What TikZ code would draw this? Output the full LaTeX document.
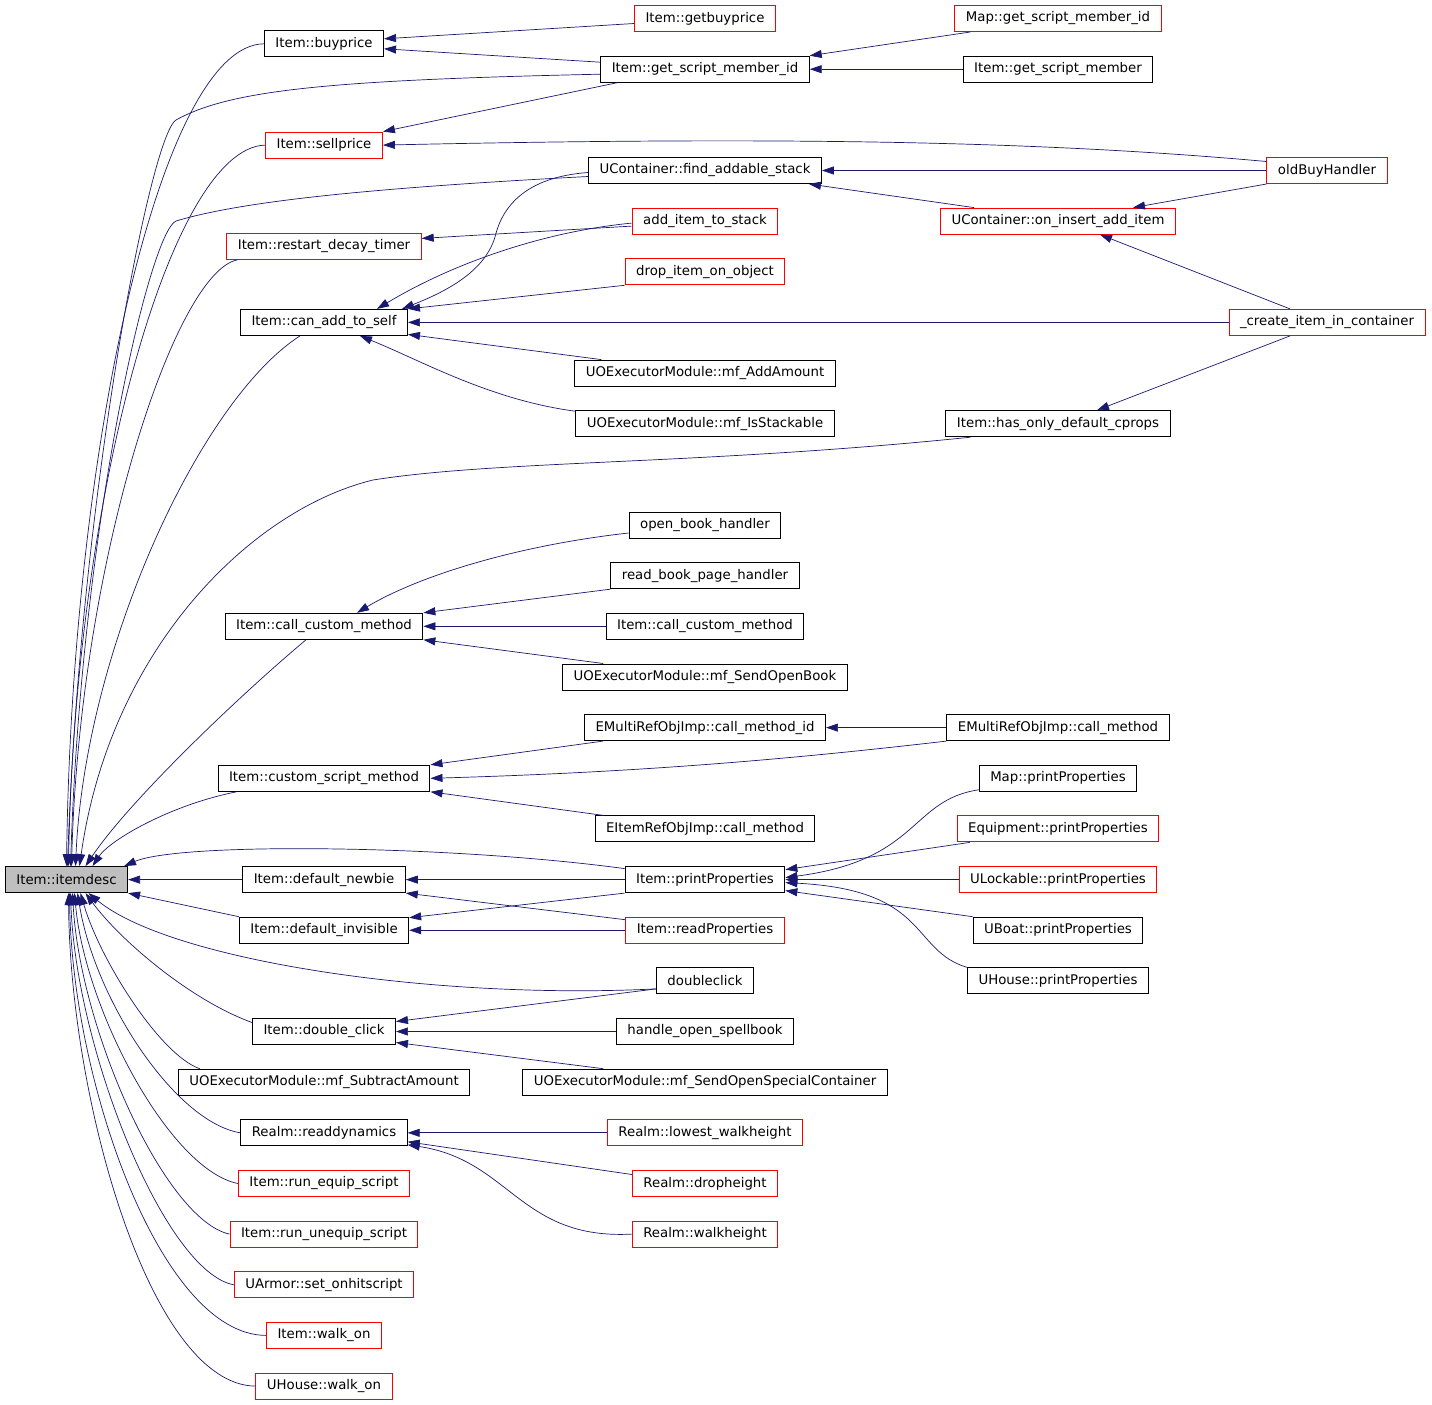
\documentclass[tikz,border=0pt]{standalone}
\usepackage{fontspec}
\setmainfont{DejaVu Sans}
\usetikzlibrary{arrows.meta,calc,positioning}
\definecolor{edgeblue}{HTML}{191970}
\tikzset{
  fn/.style={draw=black,line width=1pt,fill=white,minimum height=26pt,
    inner xsep=11pt,inner ysep=0pt,font=\fontsize{13.3}{16}\selectfont},
  fnred/.style={fn,draw=red},
  fnmain/.style={fn,fill=black!25},
  call/.style={draw=edgeblue,line width=0.7pt,-{Triangle[length=12pt,width=8pt]}},
}

\begin{document}
\begin{tikzpicture}[x=1pt,y=-1pt]
\useasboundingbox (0,0) rectangle (1432,1405);
% =============================================
% - functions.
\node[fnmain] (itemdesc) at (66.5,879.6) {Item::itemdesc};
%
\node[fn]    (buyprice)     at (324,43.8)   {Item::buyprice};
\node[fnred] (sellprice)    at (324,145.1)  {Item::sellprice};
\node[fnred] (restartdecay) at (324,246.4)  {Item::restart\_decay\_timer};
\node[fn]    (canadd)       at (324,322.4)  {Item::can\_add\_to\_self};
\node[fn]    (callcustom)   at (324,626.3)  {Item::call\_custom\_method};
\node[fn]    (customscript) at (324,778.3)  {Item::custom\_script\_method};
\node[fn]    (defnewbie)    at (324,879.6)  {Item::default\_newbie};
\node[fn]    (definvisible) at (324,930.2)  {Item::default\_invisible};
\node[fn]    (dblclick)     at (324,1031.5) {Item::double\_click};
\node[fn]    (subamount)    at (324,1082.2) {UOExecutorModule::mf\_SubtractAmount};
\node[fn]    (readdyn)      at (324,1132.8) {Realm::readdynamics};
\node[fnred] (runequip)     at (324,1183.5) {Item::run\_equip\_script};
\node[fnred] (rununequip)   at (324,1234.1) {Item::run\_unequip\_script};
\node[fnred] (onhit)        at (324,1284.8) {UArmor::set\_onhitscript};
\node[fnred] (walkon)       at (324,1335.4) {Item::walk\_on};
\node[fnred] (housewalkon)  at (324,1386.1) {UHouse::walk\_on};
%
\node[fnred] (getbuyprice)    at (705,18.5)   {Item::getbuyprice};
\node[fn]    (getsmid)        at (705,69.2)   {Item::get\_script\_member\_id};
\node[fn]    (findstack)      at (705,170.5)  {UContainer::find\_addable\_stack};
\node[fnred] (additem)        at (705,221.1)  {add\_item\_to\_stack};
\node[fnred] (dropitem)       at (705,271.8)  {drop\_item\_on\_object};
\node[fn]    (addamount)      at (705,373.1)  {UOExecutorModule::mf\_AddAmount};
\node[fn]    (isstackable)    at (705,423.7)  {UOExecutorModule::mf\_IsStackable};
\node[fn]    (openbook)       at (705,525.0)  {open\_book\_handler};
\node[fn]    (readbook)       at (705,575.7)  {read\_book\_page\_handler};
\node[fn]    (itemcallcustom) at (705,626.3)  {Item::call\_custom\_method};
\node[fn]    (sendopenbook)   at (705,677.0)  {UOExecutorModule::mf\_SendOpenBook};
\node[fn]    (callmethodid)   at (705,727.6)  {EMultiRefObjImp::call\_method\_id};
\node[fn]    (eitemcall)      at (705,828.9)  {EItemRefObjImp::call\_method};
\node[fn]    (printprops)     at (705,879.6)  {Item::printProperties};
\node[fnred] (readprops)      at (705,930.2)  {Item::readProperties};
\node[fn]    (doubleclick)    at (705,980.9)  {doubleclick};
\node[fn]    (spellbook)      at (705,1031.5) {handle\_open\_spellbook};
\node[fn]    (sendspecial)    at (705,1082.2) {UOExecutorModule::mf\_SendOpenSpecialContainer};
\node[fnred] (lowestwh)       at (705,1132.8) {Realm::lowest\_walkheight};
\node[fnred] (dropheight)     at (705,1183.5) {Realm::dropheight};
\node[fnred] (walkheight)     at (705,1234.1) {Realm::walkheight};
%
\node[fnred] (mapgetsmid)  at (1058,18.5)  {Map::get\_script\_member\_id};
\node[fn]    (getsm)       at (1058,69.2)  {Item::get\_script\_member};
\node[fnred] (oninsert)    at (1058,221.1) {UContainer::on\_insert\_add\_item};
\node[fn]    (hasonly)     at (1058,423.7) {Item::has\_only\_default\_cprops};
\node[fn]    (emulticall)  at (1058,727.6) {EMultiRefObjImp::call\_method};
\node[fn]    (mapprint)    at (1058,778.3) {Map::printProperties};
\node[fnred] (equipprint)  at (1058,828.9) {Equipment::printProperties};
\node[fnred] (lockprint)   at (1058,879.6) {ULockable::printProperties};
\node[fn]    (boatprint)   at (1058,930.2) {UBoat::printProperties};
\node[fn]    (houseprint)  at (1058,980.9) {UHouse::printProperties};
%
\node[fnred] (oldbuy)     at (1327,170.5) {oldBuyHandler};
\node[fnred] (createitem) at (1327,322.4) {\_create\_item\_in\_container};
% =============================================
% - calls, arrow at the callee.
\draw[call] ($(getbuyprice.west)+(0,5)$) -- ($(buyprice.east)+(0,-5)$);
\draw[call] ($(getsmid.west)+(0,-7)$) -- ($(buyprice.east)+(0,5)$);
\draw[call] ($(getsmid.south west)+(17,0)$) -- (sellprice.north east);
\draw[call] ($(mapgetsmid.south west)+(16,0)$) -- (getsmid.north east);
\draw[call] (getsm.west) -- (getsmid.east);
\draw[call] ($(oldbuy.west)+(0,-9)$) .. controls (1050,142) and (800,136) .. (sellprice.east);
\draw[call] (oldbuy.west) -- (findstack.east);
\draw[call] ($(oninsert.north west)+(34,0)$) -- ($(findstack.south east)+(-13,0)$);
\draw[call] (oldbuy.south west) -- ($(oninsert.north)+(75,0)$);
\draw[call] ($(createitem.north)+(-37,0)$) -- ($(oninsert.south)+(42,0)$);
\draw[call] ($(createitem.south)+(-37,0)$) -- ($(hasonly.north)+(39,0)$);
\draw[call] (createitem.west) -- (canadd.east);
\draw[call] ($(findstack.west)+(0,2)$) .. controls (540,176) and (505,195) .. (495,237)
  .. controls (485,270) and (450,290) .. ($(canadd.north)+(78,0)$);
\draw[call] ($(additem.west)+(0,2)$) .. controls (540,232) and (450,265) .. ($(canadd.north)+(53,0)$);
\draw[call] ($(additem.west)+(0,5)$) -- ($(restartdecay.east)+(0,-8)$);
\draw[call] (dropitem.south west) -- (canadd.north east);
\draw[call] ($(addamount.north west)+(27,0)$) -- ($(canadd.east)+(0,12)$);
\draw[call] ($(isstackable.north west)+(0,1)$) .. controls (490,400) and (420,360) .. ($(canadd.south)+(36,0)$);
% call_custom_method and custom_script_method
\draw[call] ($(openbook.west)+(0,8)$) .. controls (520,545) and (420,575) .. ($(callcustom.north)+(33,0)$);
\draw[call] (readbook.south west) -- (callcustom.north east);
\draw[call] (itemcallcustom.west) -- (callcustom.east);
\draw[call] ($(sendopenbook.north west)+(41,0)$) -- (callcustom.south east);
\draw[call] ($(callmethodid.south west)+(19,0)$) -- (customscript.north east);
\draw[call] (emulticall.south west) .. controls (800,758) and (650,772) .. (customscript.east);
\draw[call] (emulticall.west) -- (callmethodid.east);
\draw[call] ($(eitemcall.north west)+(9,0)$) -- (customscript.south east);
% printProperties
\draw[call] ($(mapprint.south west)+(0,-2)$) .. controls (910,800) and (920,860) .. ($(printprops.east)+(0,-2)$);
\draw[call] ($(equipprint.south west)+(13,0)$) -- ($(printprops.east)+(0,-10)$);
\draw[call] (lockprint.west) -- (printprops.east);
\draw[call] (boatprint.north west) -- ($(printprops.east)+(0,11)$);
\draw[call] (houseprint.north west) .. controls (910,950) and (930,890) .. ($(printprops.east)+(0,3)$);
\draw[call] (printprops.west) -- (defnewbie.east);
\draw[call] ($(readprops.north west)+(0,3)$) -- (defnewbie.south east);
\draw[call] (printprops.south west) -- ($(definvisible.north east)+(0,1)$);
\draw[call] (readprops.west) -- (definvisible.east);
% double_click, readdynamics
\draw[call] ($(doubleclick.west)+(0,8)$) -- ($(dblclick.east)+(0,-10)$);
\draw[call] (spellbook.west) -- (dblclick.east);
\draw[call] ($(sendspecial.north west)+(81,0)$) -- ($(dblclick.east)+(0,11)$);
\draw[call] (lowestwh.west) -- (readdyn.east);
\draw[call] ($(dropheight.west)+(0,-9)$) -- ($(readdyn.east)+(0,9)$);
\draw[call] (walkheight.west) .. controls (520,1240) and (510,1160) .. ($(readdyn.east)+(0,12)$);
% =============================================
% - into Item::itemdesc, from above.
\draw[call] (buyprice.west) .. controls (160,45) and (72,450) .. (itemdesc.north);
\draw[call] ($(getsmid.west)+(0,5)$) .. controls (330,80) and (230,90) .. (176,120)
  .. controls (150,136) and (80,500) .. ($(itemdesc.north)+(1,0)$);
\draw[call] (sellprice.west) .. controls (170,148) and (75,500) .. ($(itemdesc.north)+(2,0)$);
\draw[call] ($(findstack.west)+(0,6)$) .. controls (330,190) and (230,205) .. (176,221)
  .. controls (150,232) and (82,520) .. ($(itemdesc.north)+(4,0)$);
\draw[call] ($(restartdecay.south west)+(11,0)$) .. controls (175,272) and (80,560) .. ($(itemdesc.north)+(5,0)$);
\draw[call] ($(canadd.south)+(-24,0)$) .. controls (200,400) and (85,650) .. ($(itemdesc.north)+(9,0)$);
\draw[call] ($(hasonly.south west)+(25,0)$) .. controls (700,465) and (500,460) .. (373,480)
  .. controls (250,510) and (110,650) .. ($(itemdesc.north)+(13,0)$);
\draw[call] ($(callcustom.south)+(-18,0)$) .. controls (240,695) and (130,800) .. ($(itemdesc.north)+(19,0)$);
\draw[call] ($(customscript.south west)+(19,0)$) .. controls (170,805) and (110,840) .. ($(itemdesc.north)+(26,0)$);
\draw[call] ($(printprops.west)+(0,-11)$) .. controls (450,845) and (180,842) .. ($(itemdesc.north east)+(-4,0)$);
% - side and below.
\draw[call] (defnewbie.west) -- (itemdesc.east);
\draw[call] (definvisible.north west) -- (itemdesc.south east);
\draw[call] ($(doubleclick.west)+(0,8)$) .. controls (430,1000) and (170,960) .. ($(itemdesc.south)+(22,0)$);
\draw[call] ($(dblclick.west)+(0,-9)$) .. controls (190,1000) and (120,940) .. ($(itemdesc.south)+(19,0)$);
\draw[call] ($(subamount.north west)+(22,0)$) .. controls (160,1055) and (100,960) .. ($(itemdesc.south)+(14,0)$);
\draw[call] (readdyn.west) .. controls (175,1122) and (95,1000) .. ($(itemdesc.south)+(11,0)$);
\draw[call] (runequip.west) .. controls (170,1170) and (85,1010) .. ($(itemdesc.south)+(8,0)$);
\draw[call] (rununequip.west) .. controls (165,1220) and (80,1030) .. ($(itemdesc.south)+(6,0)$);
\draw[call] (onhit.west) .. controls (165,1272) and (76,1050) .. ($(itemdesc.south)+(4,0)$);
\draw[call] (walkon.west) .. controls (160,1335) and (72,1080) .. ($(itemdesc.south)+(3,0)$);
\draw[call] (housewalkon.west) .. controls (150,1385) and (70,1100) .. ($(itemdesc.south)+(2,0)$);
% =============================================
\end{tikzpicture}
\end{document}
